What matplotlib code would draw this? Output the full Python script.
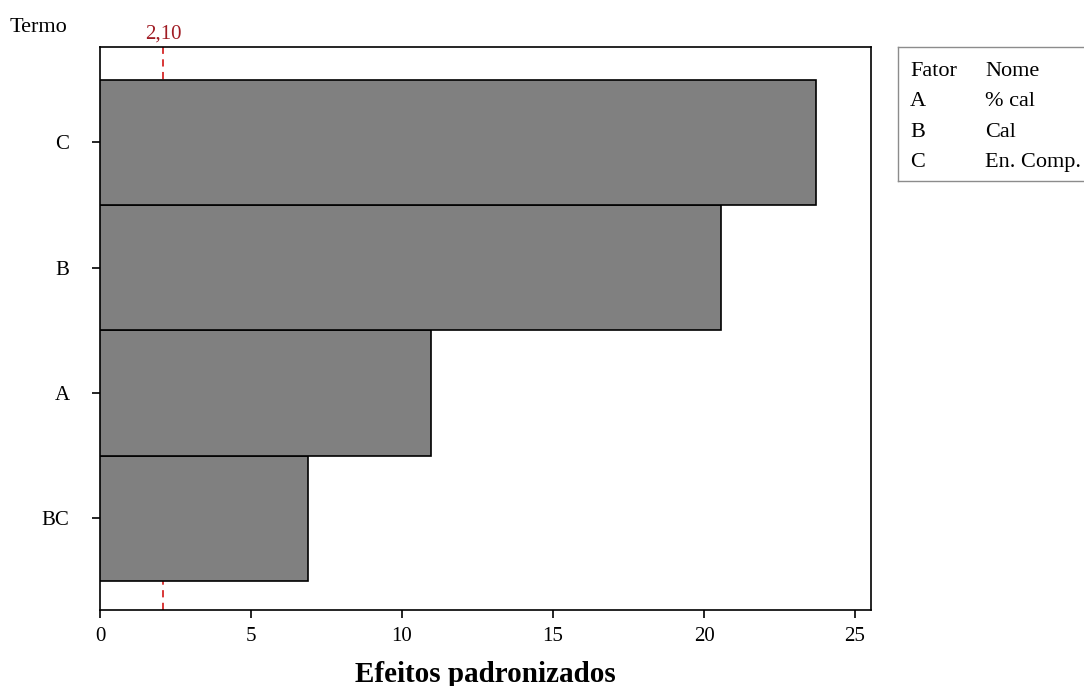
import numpy as np
import matplotlib.pyplot as plt

plt.rcParams['font.family'] = ['Liberation Serif', 'DejaVu Serif']

# Pareto dos efeitos padronizados
termos = ['BC', 'A', 'B', 'C']
efeitos = [6.89, 10.96, 20.56, 23.70]
limite = 2.10
fatores = ['A', 'B', 'C']
nomes = ['% cal', 'Cal', 'En. Comp.']

fig = plt.figure(figsize=(10.84, 6.86), dpi=100)
ax = fig.add_axes([0.0923, 0.1108, 0.7112, 0.8207])

pos = np.arange(len(termos))
ax.barh(pos, efeitos, height=1.0, color='#808080', edgecolor='black',
        linewidth=1.2, zorder=3)
ax.axvline(limite, color='#d62728', linestyle=(0, (4, 3)), linewidth=1.3,
           zorder=1)
ax.text(limite, 3.79, f'{limite:.2f}'.replace('.', ','),
        color='#a01c24', ha='center', va='bottom', fontsize=15)

ax.set_xlim(0, 25.53)
ax.set_ylim(-0.73, 3.76)
ax.set_yticks(pos)
ax.set_yticklabels(termos)
ax.set_xticks([0, 5, 10, 15, 20, 25])
ax.tick_params(axis='both', labelsize=15, length=6, width=1.2, direction='out')
ax.tick_params(axis='y', pad=16)
ax.tick_params(axis='x', pad=6)
for s in ax.spines.values():
    s.set_linewidth(1.2)
ax.set_xlabel('Efeitos padronizados', fontsize=21, fontweight='bold', labelpad=11)

fig.text(10 / 1084, 1 - 28 / 686, 'Termo', fontsize=16, ha='left', va='center')

# tabela de fatores
leg = fig.add_axes([898 / 1084, 1 - 181 / 686, 0.2, 134 / 686])
leg.set_xticks([])
leg.set_yticks([])
for s in leg.spines.values():
    s.set_color('#8c8c8c')
    s.set_linewidth(1.0)
rows = [('Fator', 'Nome')] + list(zip(fatores, nomes))
for i, (f, n) in enumerate(rows):
    y = 1 - (24.5 + i * 30.3) / 134
    leg.text(12 / 217, y, f, fontsize=16, va='center', transform=leg.transAxes)
    leg.text(87 / 217, y, n, fontsize=16, va='center', transform=leg.transAxes)

fig.savefig('out.png', dpi=100)
